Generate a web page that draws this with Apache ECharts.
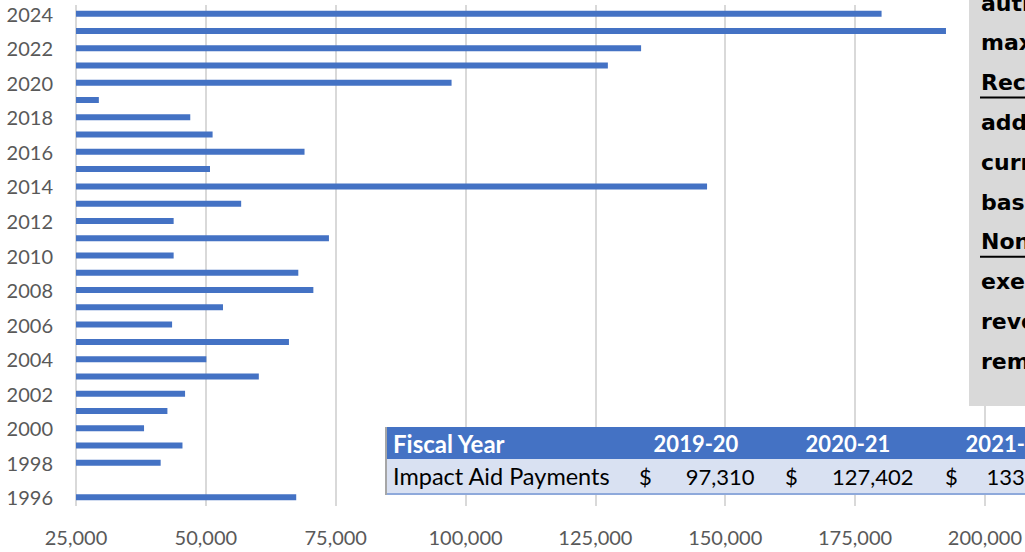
<!DOCTYPE html>
<html>
<head>
<meta charset="utf-8">
<script src="https://cdn.jsdelivr.net/npm/echarts@6/dist/echarts.min.js"></script>
<style>
html, body { margin: 0; padding: 0; background: #fff; }
#main { width: 1025px; height: 552px; }
</style>
</head>
<body>
<div id="main"></div>
<script>
// impact aid payments by year (1997 has no bar)
var years = ['1996', '1997', '1998', '1999', '2000', '2001', '2002', '2003', '2004', '2005',
    '2006', '2007', '2008', '2009', '2010', '2011', '2012', '2013', '2014', '2015',
    '2016', '2017', '2018', '2019', '2020', '2021', '2022', '2023', '2024'];
var payments = [67400, null, 41300, 45500, 38100, 42600, 46000, 60200, 50100, 66000,
    43500, 53300, 70700, 67800, 43800, 73700, 43800, 56800, 146500, 50800,
    69000, 51300, 47000, 29400, 97310, 127402, 133800, 192500, 180100];

// years shown in the small table under the chart
var tableYears = ['2020', '2021', '2022'];
var tableRowLabel = 'Impact Aid Payments';
var tableHeadLabel = 'Fiscal Year';

// note box on the right (cut off by the page edge)
var noteLines = ['authority to', 'maximum', 'Recommendation:', 'additional', 'current',
    'based on', 'Non-Recurring:', 'exempt', 'revenue', 'remain'];
var noteUnderlined = ['Recommendation:', 'Non-Recurring:'];

var font = 'Lato, "Liberation Sans", sans-serif';
var fmt = function (v) { return v.toLocaleString('en-US'); };

var graphic = [];

// note box
graphic.push({type: 'rect', z: 100, shape: {x: 969, y: -5, width: 70, height: 411}, style: {fill: '#d9d9d9'}});
noteLines.forEach(function (line, i) {
    var base = 10 + i * 39.8;
    graphic.push({type: 'text', z: 101, style: {
        text: line, x: 981, y: base - 7, fill: '#000',
        font: 'bold 22px "DejaVu Sans", sans-serif', textVerticalAlign: 'middle'
    }});
    if (noteUnderlined.indexOf(line) >= 0) {
        graphic.push({type: 'line', z: 101, shape: {x1: 980, y1: base + 8, x2: 1030, y2: base + 8},
            style: {stroke: '#000', lineWidth: 2}});
    }
});

// table
var colHead = [696, 848, 1008];
var colDollar = [639, 785, 945];
var colRight = [754.5, 913.5, 1068];
graphic.push({type: 'rect', z: 100, shape: {x: 385, y: 427, width: 700, height: 32}, style: {fill: '#4472C4'}});
graphic.push({type: 'rect', z: 100, shape: {x: 385, y: 459, width: 700, height: 35}, style: {fill: '#D9E1F2'}});
graphic.push({type: 'line', z: 101, shape: {x1: 385, y1: 494, x2: 1030, y2: 494}, style: {stroke: '#8EA9DB', lineWidth: 2}});
graphic.push({type: 'line', z: 101, shape: {x1: 386, y1: 427, x2: 386, y2: 495}, style: {stroke: '#a6a6a6', lineWidth: 2}});
graphic.push({type: 'text', z: 102, style: {text: tableHeadLabel, x: 393, y: 443, fill: '#fff',
    font: 'bold 24px ' + font, textVerticalAlign: 'middle'}});
graphic.push({type: 'text', z: 102, style: {text: tableRowLabel, x: 393, y: 476, fill: '#000',
    font: '23.5px ' + font, textVerticalAlign: 'middle'}});
tableYears.forEach(function (y, i) {
    var n = parseInt(y, 10);
    var val = payments[years.indexOf(y)];
    graphic.push({type: 'text', z: 102, style: {text: (n - 1) + '-' + y.slice(2), x: colHead[i], y: 443,
        fill: '#fff', font: 'bold 22px ' + font, textAlign: 'center', textVerticalAlign: 'middle'}});
    graphic.push({type: 'text', z: 102, style: {text: '$', x: colDollar[i], y: 476,
        fill: '#000', font: '22px ' + font, textVerticalAlign: 'middle'}});
    graphic.push({type: 'text', z: 102, style: {text: fmt(val), x: colRight[i], y: 476,
        fill: '#000', font: '22px ' + font, textAlign: 'right', textVerticalAlign: 'middle'}});
});

var chart = echarts.init(document.getElementById('main'), null, {renderer: 'svg'});
chart.setOption({
    animation: false,
    grid: {left: 76, right: 39, top: 5, bottom: 46},
    xAxis: {
        type: 'value', min: 25000, max: 200000, interval: 25000,
        axisLine: {show: false},
        axisTick: {show: false},
        splitLine: {lineStyle: {color: '#d9d9d9', width: 2}},
        axisLabel: {color: '#595959', fontFamily: font, fontSize: 20, margin: 21, formatter: fmt}
    },
    yAxis: {
        type: 'category', data: years,
        axisLine: {show: false},
        axisTick: {show: false},
        axisLabel: {interval: 1, color: '#595959', fontFamily: font, fontSize: 20, margin: 23}
    },
    series: [{
        type: 'bar', data: payments, barWidth: 6,
        itemStyle: {color: '#4472C4'}
    }],
    graphic: graphic
});
</script>
</body>
</html>
